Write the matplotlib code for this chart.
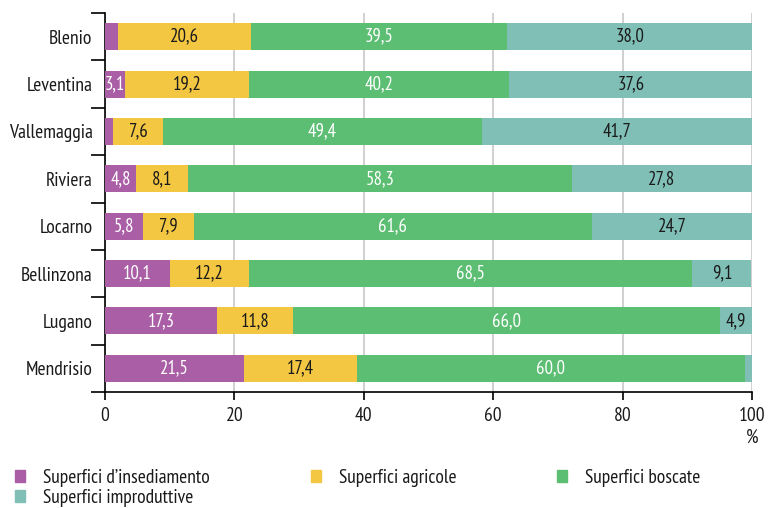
import matplotlib.pyplot as plt
import numpy as np
from matplotlib.patches import Patch

plt.rcParams['font.family'] = ['PT Sans Narrow', 'DejaVu Sans']

districts = ['Blenio', 'Leventina', 'Vallemaggia', 'Riviera',
             'Locarno', 'Bellinzona', 'Lugano', 'Mendrisio']
categories = ['Superfici d\u2019insediamento', 'Superfici agricole',
              'Superfici boscate', 'Superfici improduttive']

# bar widths (%) as drawn
insediamento = [2.0, 3.1, 1.3, 4.8, 5.8, 10.1, 17.3, 21.5]
agricole = [20.6, 19.2, 7.6, 8.1, 7.9, 12.2, 11.8, 17.4]
boscate = [39.5, 40.2, 49.4, 59.3, 61.6, 68.5, 66.0, 60.0]
improduttive = [38.0, 37.6, 41.7, 27.8, 24.7, 9.1, 4.9, 1.1]

# printed labels ('' = not shown)
lab_insediamento = ['', '3,1', '', '4,8', '5,8', '10,1', '17,3', '21,5']
lab_agricole = ['20,6', '19,2', '7,6', '8,1', '7,9', '12,2', '11,8', '17,4']
lab_boscate = ['39,5', '40,2', '49,4', '58,3', '61,6', '68,5', '66,0', '60,0']
lab_improduttive = ['38,0', '37,6', '41,7', '27,8', '24,7', '9,1', '4,9', '']

colors = ['#A95EA5', '#F4C743', '#5CBE73', '#80BFB6']
text_colors = ['white', '#1a1a1a', 'white', '#1a1a1a']

series = [insediamento, agricole, boscate, improduttive]
labels = [lab_insediamento, lab_agricole, lab_boscate, lab_improduttive]

fig = plt.figure(figsize=(7.68, 5.08), dpi=100)
ax = fig.add_axes([105 / 768, 1 - 392 / 508, 647 / 768, 379 / 508])

y = np.arange(len(districts))
left = np.zeros(len(districts))
for vals, labs, col, tcol in zip(series, labels, colors, text_colors):
    vals = np.array(vals)
    ax.barh(y, vals, left=left, height=0.57, color=col, zorder=3)
    for yi, (l, v, s) in enumerate(zip(left, vals, labs)):
        if s:
            ax.text(l + v / 2, yi, s, ha='center', va='center',
                    color=tcol, fontsize=13.5, zorder=4)
    left += vals

ax.set_xlim(0, 100)
ax.set_ylim(7.5, -0.5)
ax.set_xticks([0, 20, 40, 60, 80, 100])
ax.set_yticks(y)
ax.set_yticklabels(districts, fontsize=14, color='#1a1a1a')
ax.set_yticks(np.arange(-0.5, 8, 1), minor=True)
ax.tick_params(axis='y', which='major', length=0, pad=9)
ax.tick_params(axis='y', which='minor', length=10, width=1.2, color='black')
ax.tick_params(axis='x', length=6, width=1.2, labelsize=14, pad=5,
               labelcolor='#1a1a1a')
ax.xaxis.grid(True, color='#c8c8c8', linewidth=1.2, zorder=0)
for s in ['top', 'right']:
    ax.spines[s].set_visible(False)
for s in ['left', 'bottom']:
    ax.spines[s].set_linewidth(1.2)

fig.text(752 / 768, 1 - 438 / 508, '%', ha='center', va='center',
         fontsize=14, color='#1a1a1a')

# legend: one column per fig.legend call
handles = [Patch(color=c) for c in colors]
columns = [([0, 3], 15), ([1], 311), ([2], 557)]
for idx, x0 in columns:
    fig.legend([handles[i] for i in idx], [categories[i] for i in idx],
               loc='upper left', bbox_to_anchor=(x0 / 768, 1 - 469 / 508),
               frameon=False, fontsize=14, handlelength=0.5,
               handleheight=0.6, handletextpad=0.95, labelspacing=0.1,
               borderaxespad=0, borderpad=0, labelcolor='#1a1a1a')

fig.savefig('out.png', dpi=100)
